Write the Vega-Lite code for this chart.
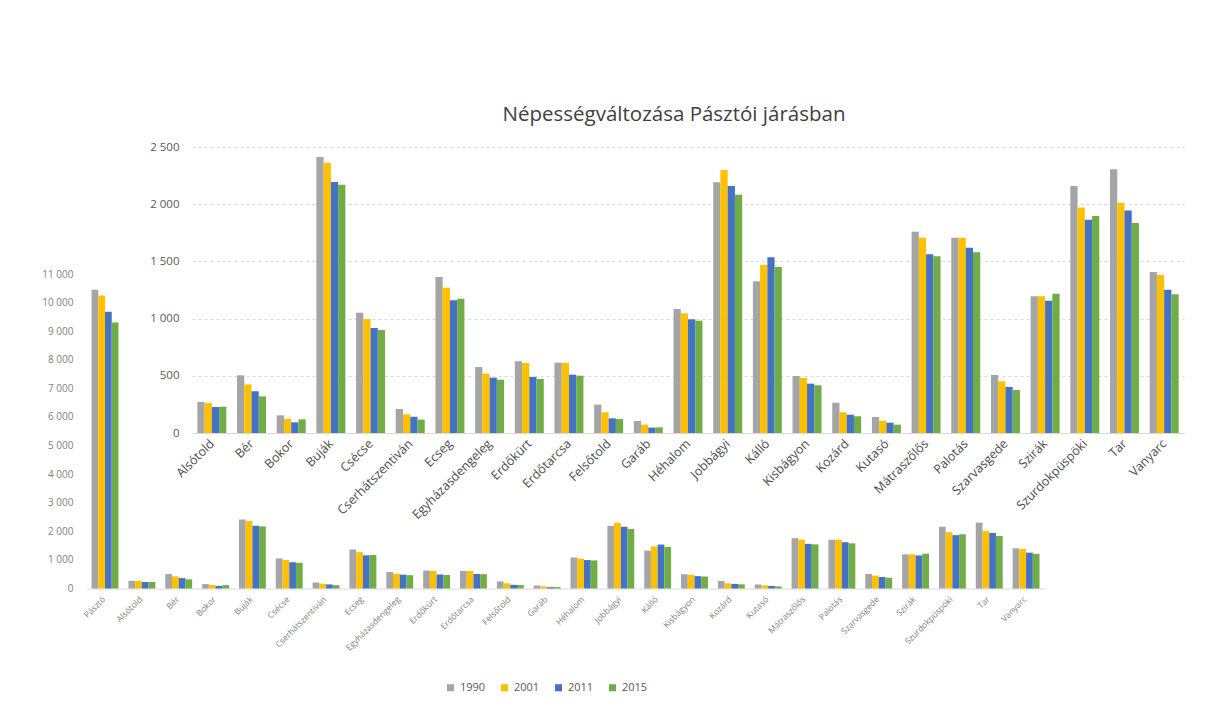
{
  "$schema": "https://vega.github.io/schema/vega-lite/v6.json",
  "autosize": {"type": "none"},
  "padding": {"left": 192, "top": 147, "right": 29, "bottom": 294},
  "width": 992,
  "height": 286,
  "background": "white",
  "config": {
    "font": "Open Sans",
    "view": {"stroke": null},
    "axis": {"labelColor": "#595959", "labelFont": "Open Sans", "ticks": false, "titleColor": "#595959"}
  },
  "title": {
    "text": "Népességváltozása Pásztói járásban",
    "fontSize": 20.5,
    "fontWeight": "normal",
    "color": "#404040",
    "font": "Open Sans",
    "anchor": "middle",
    "dx": -14,
    "offset": 16
  },
  "datasets": {
    "pop": [
      {"place": "Pásztó", "year": "1990", "pop": 10450}, {"place": "Pásztó", "year": "2001", "pop": 10250}, {"place": "Pásztó", "year": "2011", "pop": 9680}, {"place": "Pásztó", "year": "2015", "pop": 9300},
      {"place": "Alsótold", "year": "1990", "pop": 271}, {"place": "Alsótold", "year": "2001", "pop": 262}, {"place": "Alsótold", "year": "2011", "pop": 227}, {"place": "Alsótold", "year": "2015", "pop": 230},
      {"place": "Bér", "year": "1990", "pop": 504}, {"place": "Bér", "year": "2001", "pop": 425}, {"place": "Bér", "year": "2011", "pop": 364}, {"place": "Bér", "year": "2015", "pop": 320},
      {"place": "Bokor", "year": "1990", "pop": 154}, {"place": "Bokor", "year": "2001", "pop": 125}, {"place": "Bokor", "year": "2011", "pop": 93}, {"place": "Bokor", "year": "2015", "pop": 119},
      {"place": "Buják", "year": "1990", "pop": 2413}, {"place": "Buják", "year": "2001", "pop": 2363}, {"place": "Buják", "year": "2011", "pop": 2194}, {"place": "Buják", "year": "2015", "pop": 2171},
      {"place": "Csécse", "year": "1990", "pop": 1052}, {"place": "Csécse", "year": "2001", "pop": 997}, {"place": "Csécse", "year": "2011", "pop": 918}, {"place": "Csécse", "year": "2015", "pop": 900},
      {"place": "Cserhátszentiván", "year": "1990", "pop": 210}, {"place": "Cserhátszentiván", "year": "2001", "pop": 163}, {"place": "Cserhátszentiván", "year": "2011", "pop": 143}, {"place": "Cserhátszentiván", "year": "2015", "pop": 117},
      {"place": "Ecseg", "year": "1990", "pop": 1364}, {"place": "Ecseg", "year": "2001", "pop": 1270}, {"place": "Ecseg", "year": "2011", "pop": 1160}, {"place": "Ecseg", "year": "2015", "pop": 1174},
      {"place": "Egyházasdengeleg", "year": "1990", "pop": 577}, {"place": "Egyházasdengeleg", "year": "2001", "pop": 519}, {"place": "Egyházasdengeleg", "year": "2011", "pop": 484}, {"place": "Egyházasdengeleg", "year": "2015", "pop": 466},
      {"place": "Erdőkürt", "year": "1990", "pop": 627}, {"place": "Erdőkürt", "year": "2001", "pop": 612}, {"place": "Erdőkürt", "year": "2011", "pop": 490}, {"place": "Erdőkürt", "year": "2015", "pop": 472},
      {"place": "Erdőtarcsa", "year": "1990", "pop": 615}, {"place": "Erdőtarcsa", "year": "2001", "pop": 612}, {"place": "Erdőtarcsa", "year": "2011", "pop": 510}, {"place": "Erdőtarcsa", "year": "2015", "pop": 501},
      {"place": "Felsőtold", "year": "1990", "pop": 248}, {"place": "Felsőtold", "year": "2001", "pop": 181}, {"place": "Felsőtold", "year": "2011", "pop": 128}, {"place": "Felsőtold", "year": "2015", "pop": 122},
      {"place": "Garáb", "year": "1990", "pop": 105}, {"place": "Garáb", "year": "2001", "pop": 73}, {"place": "Garáb", "year": "2011", "pop": 47}, {"place": "Garáb", "year": "2015", "pop": 50},
      {"place": "Héhalom", "year": "1990", "pop": 1084}, {"place": "Héhalom", "year": "2001", "pop": 1046}, {"place": "Héhalom", "year": "2011", "pop": 994}, {"place": "Héhalom", "year": "2015", "pop": 982},
      {"place": "Jobbágyi", "year": "1990", "pop": 2191}, {"place": "Jobbágyi", "year": "2001", "pop": 2299}, {"place": "Jobbágyi", "year": "2011", "pop": 2159}, {"place": "Jobbágyi", "year": "2015", "pop": 2083},
      {"place": "Kálló", "year": "1990", "pop": 1326}, {"place": "Kálló", "year": "2001", "pop": 1471}, {"place": "Kálló", "year": "2011", "pop": 1536}, {"place": "Kálló", "year": "2015", "pop": 1451},
      {"place": "Kisbágyon", "year": "1990", "pop": 498}, {"place": "Kisbágyon", "year": "2001", "pop": 481}, {"place": "Kisbágyon", "year": "2011", "pop": 431}, {"place": "Kisbágyon", "year": "2015", "pop": 417},
      {"place": "Kozárd", "year": "1990", "pop": 265}, {"place": "Kozárd", "year": "2001", "pop": 181}, {"place": "Kozárd", "year": "2011", "pop": 160}, {"place": "Kozárd", "year": "2015", "pop": 146},
      {"place": "Kutasó", "year": "1990", "pop": 140}, {"place": "Kutasó", "year": "2001", "pop": 108}, {"place": "Kutasó", "year": "2011", "pop": 90}, {"place": "Kutasó", "year": "2015", "pop": 73},
      {"place": "Mátraszőlős", "year": "1990", "pop": 1760}, {"place": "Mátraszőlős", "year": "2001", "pop": 1707}, {"place": "Mátraszőlős", "year": "2011", "pop": 1562}, {"place": "Mátraszőlős", "year": "2015", "pop": 1544},
      {"place": "Palotás", "year": "1990", "pop": 1707}, {"place": "Palotás", "year": "2001", "pop": 1707}, {"place": "Palotás", "year": "2011", "pop": 1620}, {"place": "Palotás", "year": "2015", "pop": 1579},
      {"place": "Szarvasgede", "year": "1990", "pop": 507}, {"place": "Szarvasgede", "year": "2001", "pop": 452}, {"place": "Szarvasgede", "year": "2011", "pop": 402}, {"place": "Szarvasgede", "year": "2015", "pop": 376},
      {"place": "Szirák", "year": "1990", "pop": 1195}, {"place": "Szirák", "year": "2001", "pop": 1195}, {"place": "Szirák", "year": "2011", "pop": 1157}, {"place": "Szirák", "year": "2015", "pop": 1218},
      {"place": "Szurdokpüspöki", "year": "1990", "pop": 2159}, {"place": "Szurdokpüspöki", "year": "2001", "pop": 1972}, {"place": "Szurdokpüspöki", "year": "2011", "pop": 1865}, {"place": "Szurdokpüspöki", "year": "2015", "pop": 1897},
      {"place": "Tar", "year": "1990", "pop": 2305}, {"place": "Tar", "year": "2001", "pop": 2013}, {"place": "Tar", "year": "2011", "pop": 1944}, {"place": "Tar", "year": "2015", "pop": 1836},
      {"place": "Vanyarc", "year": "1990", "pop": 1407}, {"place": "Vanyarc", "year": "2001", "pop": 1381}, {"place": "Vanyarc", "year": "2011", "pop": 1253}, {"place": "Vanyarc", "year": "2015", "pop": 1212}
    ]
  },
  "layer": [
    {
      "data": {"name": "pop"},
      "mark": {"type": "bar"},
      "encoding": {
        "x": {
          "field": "place", "type": "nominal", "sort": null, "title": null,
          "scale": {"range": [-105.4, 852.5], "paddingInner": 0.27, "paddingOuter": 0.135},
          "axis": {"orient": "bottom", "offset": 155.5, "labelAngle": -45, "labelFontSize": 8.5, "labelColor": "#7f7f7f", "domainColor": "#d9d9d9", "labelPadding": 6, "labelOffset": -4}
        },
        "xOffset": {"field": "year", "type": "nominal", "sort": ["1990", "2001", "2011", "2015"]},
        "y": {
          "field": "pop", "type": "quantitative", "title": null,
          "scale": {"domain": [0, 11000], "range": [441.5, 127], "nice": false, "zero": true},
          "axis": {"orient": "left", "offset": 117, "domain": false, "grid": false, "labelPadding": 2, "labelFontSize": 10, "labelColor": "#7f7f7f", "values": [0,1000,2000,3000,4000,5000,6000,7000,8000,9000,10000,11000], "labelExpr": "replace(format(datum.value, ',d'), ',', ' ')"}
        },
        "color": {
          "field": "year", "type": "nominal", "title": null,
          "scale": {"domain": ["1990", "2001", "2011", "2015"], "range": ["#A5A5A5", "#FFC000", "#4472C4", "#70AD47"]},
          "legend": {"orient": "none", "legendX": 253, "legendY": 535, "direction": "horizontal", "symbolType": "square", "symbolSize": 50, "labelFontSize": 11, "labelColor": "#595959", "columnPadding": 13, "symbolStrokeWidth": 0}
        }
      }
    },
    {
      "data": {"name": "pop"},
      "transform": [{"filter": "datum.place !== 'Pásztó'"}],
      "mark": {"type": "bar"},
      "encoding": {
        "x": {
          "field": "place", "type": "nominal", "sort": null, "title": null,
          "scale": {"paddingInner": 0.27, "paddingOuter": 0.135},
          "axis": {"orient": "bottom", "labelAngle": -45, "labelFontSize": 12.5, "labelColor": "#4d4d4d", "domainColor": "#d9d9d9", "labelPadding": 4, "labelOffset": -4}
        },
        "xOffset": {"field": "year", "type": "nominal", "sort": ["1990", "2001", "2011", "2015"]},
        "y": {
          "field": "pop", "type": "quantitative", "title": null,
          "scale": {"domain": [0, 2500], "nice": false},
          "axis": {"orient": "left", "domain": false, "grid": true, "gridDash": [3, 3], "gridColor": "#d9d9d9", "labelPadding": 13, "labelFontSize": 11.5, "labelColor": "#595959", "values": [0,500,1000,1500,2000,2500], "labelExpr": "replace(format(datum.value, ',d'), ',', ' ')"}
        },
        "color": {"field": "year", "type": "nominal", "title": null}
      }
    }
  ],
  "resolve": {"scale": {"x": "independent", "y": "independent", "xOffset": "independent"}, "axis": {"x": "independent", "y": "independent"}}
}
